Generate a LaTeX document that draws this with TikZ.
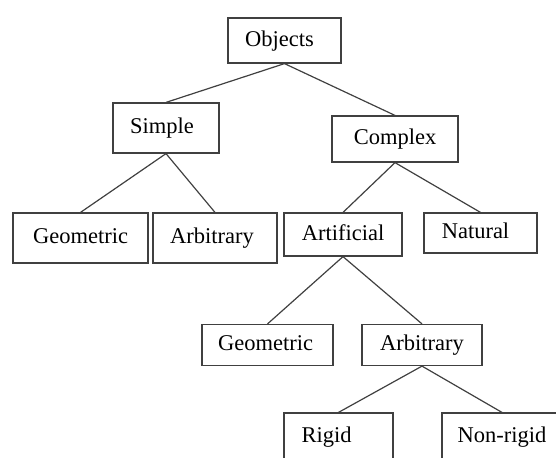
\documentclass[tikz,border=0pt]{standalone}
\usepackage{fontspec}
\setmainfont{Liberation Serif}
\begin{document}
\begin{tikzpicture}[x=0.5pt,y=-0.5pt,
  box/.style={draw=black!75, line width=0.6pt, rectangle, inner sep=0pt,
    font=\fontsize{11.25}{13}\selectfont, text height=1.55ex, text depth=0.3ex},
  link/.style={draw=black!75, line width=0.6pt}]
\useasboundingbox (0,0) rectangle (556,457);
\clip (0,0) rectangle (556,457);
\node[box, minimum width=56.5pt, minimum height=22.5pt] (obj) at (284.5,40.5) {\hspace*{-5pt}Objects};
\node[box, minimum width=53pt, minimum height=25pt] (simple) at (166,128) {\hspace*{-4pt}Simple};
\node[box, minimum width=63pt, minimum height=23pt] (complex) at (395,139) {Complex};
\node[box, minimum width=67.5pt, minimum height=25pt] (geoA) at (80.5,238) {Geometric};
\node[box, minimum width=62pt, minimum height=25pt] (arbA) at (215,238) {\hspace*{-3pt}Arbitrary};
\node[box, minimum width=59pt, minimum height=21.5pt] (art) at (343,234.5) {Artificial};
\node[box, minimum width=56.5pt, minimum height=20pt] (nat) at (480.5,233) {\hspace*{-5pt}Natural};
\node[box, minimum width=65.5pt, minimum height=20.5pt] (geoB) at (267.5,345) {\hspace*{-2pt}Geometric};
\node[box, minimum width=60pt, minimum height=20.5pt] (arbB) at (422,345) {Arbitrary};
\node[box, minimum width=54.5pt, minimum height=23.5pt] (rigid) at (338.5,436.5) {\hspace*{-12pt}Rigid};
\node[box, minimum width=60pt, minimum height=23.5pt] (nonrigid) at (502,436.5) {Non-rigid};
\draw[link] (obj.south) -- (simple.north);
\draw[link] (obj.south) -- (complex.north);
\draw[link] (simple.south) -- (geoA.north);
\draw[link] (simple.south) -- (arbA.north);
\draw[link] (complex.south) -- (art.north);
\draw[link] (complex.south) -- (nat.north);
\draw[link] (art.south) -- (geoB.north);
\draw[link] (art.south) -- (arbB.north);
\draw[link] (arbB.south) -- (rigid.north);
\draw[link] (arbB.south) -- (nonrigid.north);
\end{tikzpicture}
\end{document}
